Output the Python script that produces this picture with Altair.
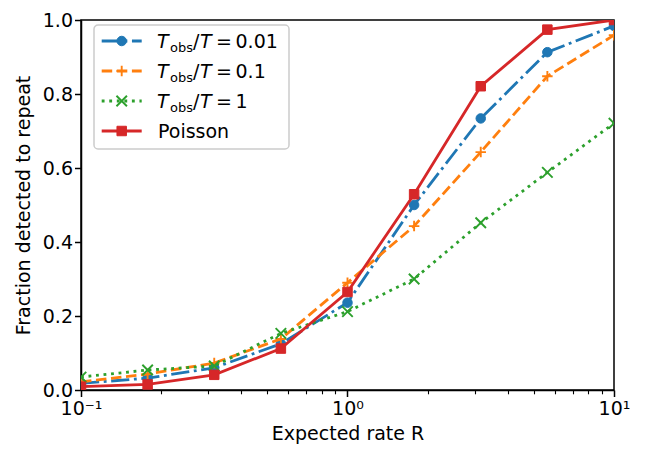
import altair as alt
import pandas as pd

# ---------------- data ----------------
rates = [0.1, 0.1778, 0.3162, 0.5623, 1.0, 1.778, 3.162, 5.623, 10.0]
frac_t001 = [0.018, 0.032, 0.060, 0.125, 0.236, 0.500, 0.734, 0.913, 0.984]
frac_t01 = [0.022, 0.043, 0.073, 0.138, 0.290, 0.443, 0.643, 0.848, 0.959]
frac_t1 = [0.035, 0.054, 0.065, 0.153, 0.212, 0.300, 0.452, 0.588, 0.721]
frac_poisson = [0.009, 0.015, 0.041, 0.112, 0.265, 0.529, 0.821, 0.974, 1.0]

series_keys = ["0.01", "0.1", "1", "Poisson"]
series_values = [frac_t001, frac_t01, frac_t1, frac_poisson]

x_major = [0.1, 1, 10]
x_minor = [0.2, 0.3, 0.4, 0.5, 0.6, 0.7, 0.8, 0.9, 2, 3, 4, 5, 6, 7, 8, 9]
y_ticks = [0.0, 0.2, 0.4, 0.6, 0.8, 1.0]

# ---------------- styles ----------------
FONT = "DejaVu Sans"
FS = 19
colors = ["#1f77b4", "#ff7f0e", "#2ca02c", "#d62728"]
dashes = [[18.2, 4.6, 2.85, 4.6], [10.5, 4.6], [2.85, 4.7], None]
shapes = ["circle", "M-1,0L1,0M0,-1L0,1", "M-1,-1L1,1M-1,1L1,-1", "square"]
filled = [True, False, False, True]
LW = 2.8

W, H = 533, 370

major_test = "datum.value==0.1||datum.value==1||datum.value==10"
x_axis = alt.Axis(
    values=x_major + x_minor,
    labelExpr="datum.value==0.1?'10⁻¹':datum.value==1?'10⁰':datum.value==10?'10¹':''",
    labelOverlap=False,
    labelFlush=False,
    tickSize={"condition": {"test": major_test, "value": 6.5}, "value": 3.8},
    tickWidth={"condition": {"test": major_test, "value": 1.5}, "value": 1.1},
    tickColor="black",
    domainColor="black",
    domainWidth=1.5,
    grid=False,
    labelFont=FONT,
    labelFontSize=FS,
    labelColor="black",
    labelPadding=3,
    titleFont=FONT,
    titleFontSize=FS,
    titleFontWeight="normal",
    titleColor="black",
    titlePadding=6,
)
y_axis = alt.Axis(
    values=y_ticks,
    format=".1f",
    tickSize=6.5,
    tickWidth=1.5,
    tickColor="black",
    domainColor="black",
    domainWidth=1.5,
    grid=False,
    labelFont=FONT,
    labelFontSize=FS,
    labelColor="black",
    labelPadding=2,
    titleFont=FONT,
    titleFontSize=FS,
    titleFontWeight="normal",
    titleColor="black",
    titlePadding=9,
)

x_enc = alt.X("R:Q", scale=alt.Scale(type="log", domain=[0.1, 10], nice=False), axis=x_axis, title="Expected rate R")
y_enc = alt.Y("frac:Q", scale=alt.Scale(domain=[0, 1], nice=False, zero=False), axis=y_axis,
              title="Fraction detected to repeat")

layers = []
for key, vals, col, dash, shp, fl in zip(series_keys, series_values, colors, dashes, shapes, filled):
    df = pd.DataFrame({"R": rates, "frac": vals, "series": key})
    line_kw = dict(color=col, strokeWidth=LW, clip=True, strokeCap="butt")
    if dash:
        line_kw["strokeDash"] = dash
    layers.append(alt.Chart(df).mark_line(**line_kw).encode(x=x_enc, y=y_enc))
    if fl:
        pt = alt.Chart(df).mark_point(shape=shp, filled=True, fill=col, stroke=col, strokeWidth=1,
                                      size=90, opacity=1, clip=True)
    else:
        pt = alt.Chart(df).mark_point(shape=shp, filled=False, stroke=col, strokeWidth=1.9,
                                      size=110, opacity=1, clip=True)
    layers.append(pt.encode(x=x_enc, y=y_enc))

# ---------------- legend (drawn inside the plot) ----------------
one = pd.DataFrame({"k": [0]})
layers.append(
    alt.Chart(one).mark_rect(fill="white", fillOpacity=0.8, stroke="#cccccc", strokeWidth=1.5, cornerRadius=4)
    .encode(x=alt.value(13), x2=alt.value(208), y=alt.value(5), y2=alt.value(129))
)
row_y = [21, 51, 81, 111]


def txt(s, x, y, size=FS, style="normal"):
    return alt.Chart(one).mark_text(align="left", baseline="alphabetic", font=FONT, fontSize=size,
                                    fontStyle=style, color="black").encode(
        x=alt.value(x), y=alt.value(y), text=alt.value(s))


for key, ry, col, dash, shp, fl in zip(series_keys, row_y, colors, dashes, shapes, filled):
    rule_kw = dict(color=col, strokeWidth=LW, strokeCap="butt")
    if dash:
        rule_kw["strokeDash"] = dash
    layers.append(alt.Chart(one).mark_rule(**rule_kw).encode(
        x=alt.value(20.7), x2=alt.value(60.7), y=alt.value(ry)))
    if fl:
        pt = alt.Chart(one).mark_point(shape=shp, filled=True, fill=col, stroke=col, strokeWidth=1,
                                       size=90, opacity=1)
    else:
        pt = alt.Chart(one).mark_point(shape=shp, filled=False, stroke=col, strokeWidth=1.9,
                                       size=110, opacity=1)
    layers.append(pt.encode(x=alt.value(40.7), y=alt.value(ry)))
    if key == "Poisson":
        layers.append(txt("Poisson", 77, ry + 6.5))
    else:
        layers.append(txt("T", 76, ry + 6.5, style="italic"))
        layers.append(txt("obs", 89, ry + 10.5, size=13))
        layers.append(txt("/", 112, ry + 6.5))
        layers.append(txt("T", 119, ry + 6.5, style="italic"))
        layers.append(txt("=", 135, ry + 6.5))
        layers.append(txt(key, 154.5, ry + 6.5))

chart = alt.layer(*layers).properties(
    width=W,
    height=H,
    padding={"left": 73, "top": 12, "right": 32, "bottom": 57},
    autosize=alt.AutoSizeParams(type="none"),
).configure_view(stroke="black", strokeWidth=1.5)

chart.save("out.html", embed_options={"renderer": "svg", "actions": False})
